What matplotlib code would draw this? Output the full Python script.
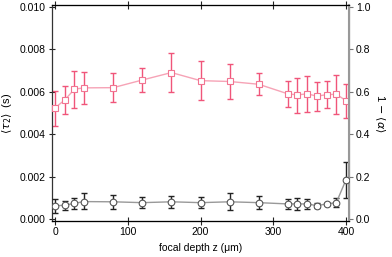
import matplotlib
matplotlib.use("Agg")
import matplotlib.pyplot as plt
from matplotlib.ticker import FormatStrFormatter

plt.rcParams['font.family'] = ['Liberation Sans', 'DejaVu Sans']
plt.rcParams['mathtext.fontset'] = 'dejavusans'

# focal depth positions (um)
z = [0, 13.3, 26.7, 40, 80, 120, 160, 200, 240, 280, 320, 333.3, 346.7, 360, 373.3, 386.7, 400]

# <tau_2> (s), left axis
tau = [0.00525, 0.00562, 0.00613, 0.00619, 0.00620, 0.00656, 0.00691, 0.00653, 0.00649,
       0.00636, 0.00591, 0.00586, 0.00591, 0.00580, 0.00587, 0.00589, 0.00559]
tau_hi = [0.00606, 0.00628, 0.00700, 0.00693, 0.00691, 0.00713, 0.00785, 0.00746, 0.00730,
          0.00688, 0.00652, 0.00667, 0.00675, 0.00648, 0.00653, 0.00679, 0.00638]
tau_lo = [0.00441, 0.00495, 0.00523, 0.00544, 0.00552, 0.00601, 0.00599, 0.00562, 0.00567,
          0.00586, 0.00529, 0.00503, 0.00507, 0.00512, 0.00523, 0.00495, 0.00476]

# 1 - <alpha>, right axis
alpha = [0.064, 0.067, 0.076, 0.084, 0.083, 0.079, 0.083, 0.079, 0.083,
         0.079, 0.073, 0.073, 0.073, 0.065, 0.073, 0.079, 0.186]
alpha_hi = [0.095, 0.087, 0.103, 0.124, 0.116, 0.106, 0.111, 0.105, 0.124,
            0.109, 0.095, 0.101, 0.098, 0.076, 0.078, 0.103, 0.270]
alpha_lo = [0.029, 0.045, 0.050, 0.048, 0.050, 0.054, 0.054, 0.053, 0.045,
            0.050, 0.050, 0.045, 0.048, 0.056, 0.068, 0.058, 0.100]

pink = "#f0557a"
pink_line = "#f6a3b6"

fig = plt.figure(figsize=(3.92, 2.57), dpi=100)
ax = fig.add_axes([0.133, 0.142, 0.757, 0.837])
ax2 = ax.twinx()

# tau_2 series
yerr_t = [[t - l for t, l in zip(tau, tau_lo)], [h - t for t, h in zip(tau, tau_hi)]]
ax.errorbar(z, tau, yerr=yerr_t, fmt='none', ecolor=pink, elinewidth=1.0,
            capsize=2.2, capthick=1.0, zorder=2)
ax.plot(z, tau, '-', color=pink_line, lw=1.0, marker='s', ms=4.2,
        mfc='white', mec='#f27592', mew=0.8, zorder=3)

# 1 - alpha series
yerr_a = [[a - l for a, l in zip(alpha, alpha_lo)], [h - a for a, h in zip(alpha, alpha_hi)]]
ax2.errorbar(z, alpha, yerr=yerr_a, fmt='none', ecolor='#222222', elinewidth=1.0,
             capsize=2.2, capthick=1.0, zorder=2)
ax2.plot(z, alpha, '-', color='#999999', lw=1.0, marker='o', ms=4.8,
         mfc='white', mec='#555555', mew=0.8, zorder=3)

ax.set_xlim(-4, 404)
ax.set_ylim(-0.00005, 0.01007)
ax2.set_ylim(-0.005, 1.007)

ax.set_xticks([0, 100, 200, 300, 400])
ax.set_yticks([0, 0.002, 0.004, 0.006, 0.008, 0.010])
ax.yaxis.set_major_formatter(FormatStrFormatter('%.3f'))
ax2.set_yticks([0, 0.2, 0.4, 0.6, 0.8, 1.0])
ax2.yaxis.set_major_formatter(FormatStrFormatter('%.1f'))

ax.tick_params(axis='x', direction='inout', length=6, width=0.8, labelsize=7.5,
               top=True, pad=2, color='#222222')
ax.tick_params(axis='y', direction='inout', length=5, width=0.8, labelsize=7.5,
               pad=2, color='#222222')
ax2.tick_params(axis='y', direction='out', length=3, width=0.8, labelsize=7.5,
                pad=2, color='#777777')

for s in ['left', 'bottom', 'top']:
    ax.spines[s].set_color('#333333')
    ax.spines[s].set_linewidth(0.9)
ax2.spines['right'].set_color('#999999')
ax2.spines['right'].set_linewidth(1.5)
ax2.spines['left'].set_visible(False)

ax.set_xlabel('focal depth z (μm)', fontsize=7.5, labelpad=4)
ax.set_ylabel(r'$\langle\tau_2\rangle$  (s)', fontsize=8, labelpad=4)
ax2.set_ylabel(r'1 $-$ $\langle\alpha\rangle$', fontsize=8, rotation=270, labelpad=12)

fig.savefig("out.png", dpi=100)
